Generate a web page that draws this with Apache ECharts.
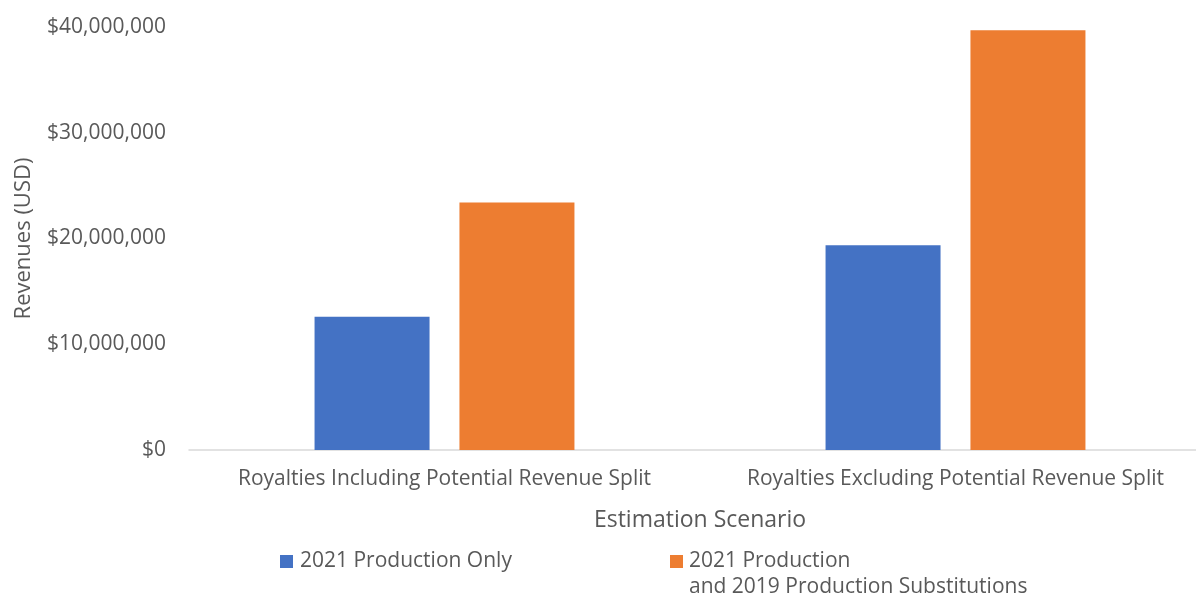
<!DOCTYPE html>
<html>
<head>
<meta charset="utf-8">
<script src="https://cdn.jsdelivr.net/npm/echarts@6/dist/echarts.min.js"></script>
<style>
html,body{margin:0;padding:0;background:#fff;}
#container1{width:1196px;height:595px;}
</style>
</head>
<body>
<div id="container1"></div>
<script>
var categories=['Royalties Including Potential Revenue Split','Royalties Excluding Potential Revenue Split'];
var seriesNames=['2021 Production Only','2021 Production and 2019 Production Substitutions'];
var onlyValues=[12600000,19350000];
var substValues=[23400000,39700000];
var yTicks=[0,10000000,20000000,30000000,40000000];

var txt='#595959';
var fnt='Open Sans';

function money(v){
	return '$'+String(v).replace(/\B(?=(\d{3})+(?!\d))/g,',');
}

var myChart=echarts.init(document.getElementById('container1'));
var option={
	animation:false,
	textStyle:{fontFamily:fnt},
	grid:{left:189,top:27,width:1022,height:423,containLabel:false,outerBoundsMode:'none'},
	xAxis:[{
		type:'category',
		data:categories,
		axisLine:{lineStyle:{color:'#D9D9D9',width:1.5}},
		axisTick:{show:false},
		axisLabel:{color:txt,fontSize:21,fontFamily:fnt,margin:19,interval:0},
		name:'Estimation Scenario',
		nameLocation:'middle',
		nameGap:59,
		nameTextStyle:{color:txt,fontSize:23,fontFamily:fnt}
	}],
	yAxis:[{
		type:'value',
		min:yTicks[0],
		max:yTicks[yTicks.length-1],
		interval:yTicks[1]-yTicks[0],
		axisLine:{show:false},
		axisTick:{show:false},
		splitLine:{show:false},
		axisLabel:{color:txt,fontSize:21,fontFamily:fnt,margin:23,formatter:money},
		name:'Revenues (USD)',
		nameLocation:'middle',
		nameGap:154,
		nameTextStyle:{color:txt,fontSize:22,fontFamily:fnt}
	}],
	legend:[{
		left:280,
		top:551,
		padding:0,
		itemWidth:13,
		itemHeight:13,
		icon:'rect',
		data:[seriesNames[0]],
		textStyle:{color:txt,fontSize:21,fontFamily:fnt,padding:[0,0,0,2]}
	},{
		left:670,
		top:551,
		padding:0,
		itemWidth:13,
		itemHeight:13,
		icon:'rect',
		data:[seriesNames[1]],
		formatter:function(){return '2021 Production';},
		textStyle:{color:txt,fontSize:21,fontFamily:fnt,padding:[0,0,0,1]}
	}],
	graphic:[{
		type:'text',
		left:689,
		top:577,
		style:{text:'and 2019 Production Substitutions',fill:txt,fontSize:21,fontFamily:fnt}
	}],
	series:[{
		name:seriesNames[0],
		type:'bar',
		data:onlyValues,
		barWidth:115,
		barGap:'26%',
		itemStyle:{color:'#4472C4'}
	},{
		name:seriesNames[1],
		type:'bar',
		data:substValues,
		barWidth:115,
		itemStyle:{color:'#ED7D31'}
	}]
};
myChart.setOption(option);
</script>
</body>
</html>
